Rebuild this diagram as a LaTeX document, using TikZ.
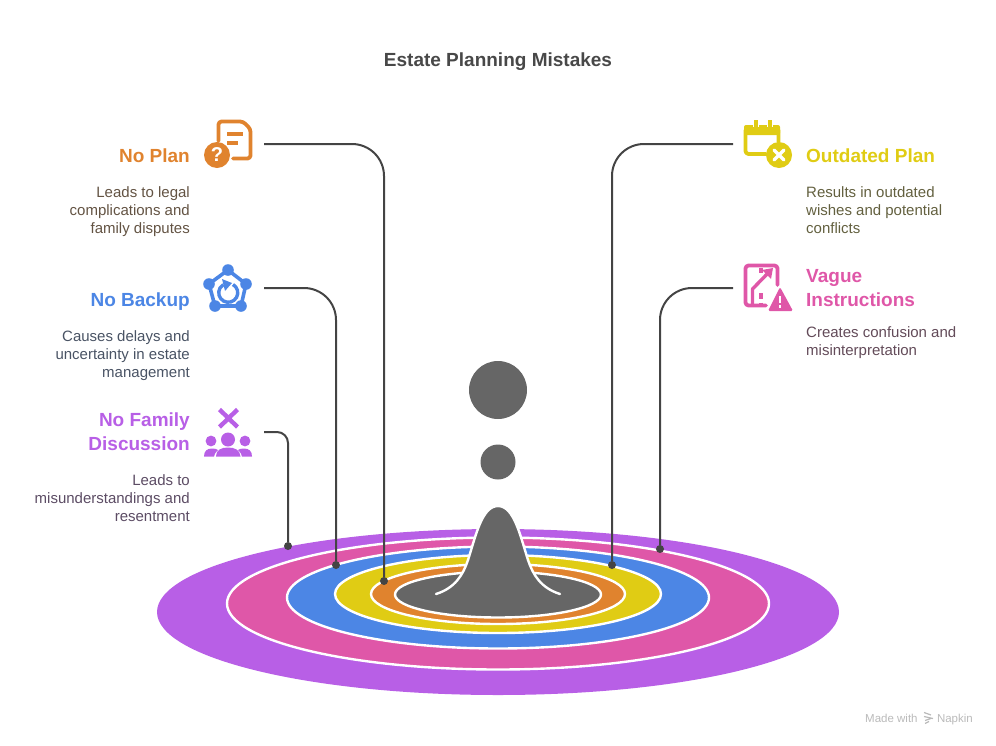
\documentclass[tikz,border=0pt]{standalone}
\usepackage{fontspec}
\setmainfont{Liberation Sans}
\definecolor{planC}{HTML}{E0832E}
\definecolor{backupC}{HTML}{4C86E5}
\definecolor{familyC}{HTML}{B85FE6}
\definecolor{outdatedC}{HTML}{E0CC14}
\definecolor{vagueC}{HTML}{DF57A8}
\definecolor{peakC}{HTML}{666666}
\definecolor{leaderC}{HTML}{444444}
\definecolor{titleC}{HTML}{484848}
\tikzset{
  ring/.style={draw=white, line width=2.4},
  leader/.style={draw=leaderC, line width=2},
  dotmark/.style={circle, fill=leaderC, minimum size=8, inner sep=0},
  headL/.style={anchor=east, align=right, inner sep=0, font=\fontsize{19}{24}\selectfont\bfseries},
  headR/.style={anchor=west, align=left, inner sep=0, font=\fontsize{19}{24}\selectfont\bfseries},
  bodyL/.style={anchor=east, align=right, inner sep=0, font=\fontsize{15}{18}\selectfont},
  bodyR/.style={anchor=west, align=left, inner sep=0, font=\fontsize{15}{18}\selectfont},
  glyph/.style={line width=3.8, line cap=round, line join=round, rounded corners=3},
  credit/.style={inner sep=0, text=black!27, font=\fontsize{11.5}{13}\selectfont}
}
\begin{document}
\begin{tikzpicture}[x=1pt, y=-1pt]
  \useasboundingbox (0,0) rectangle (996,745);

  \node (title) at (498,61.5) [font=\fontsize{19}{22}\selectfont\bfseries, text=titleC] {Estate Planning Mistakes};

  \fill [familyC] (498,612) ellipse [x radius=341, y radius=83];
  \draw [ring, fill=vagueC] (498,603.5) ellipse [x radius=271, y radius=66];
  \draw [ring, fill=backupC] (498,597.5) ellipse [x radius=211, y radius=51];
  \draw [ring, fill=outdatedC] (498,594) ellipse [x radius=163, y radius=39];
  \draw [ring, fill=planC] (498,594) ellipse [x radius=127, y radius=30];
  \draw [ring, fill=peakC] (498,594.5) ellipse [x radius=103, y radius=23];
  \draw [ring, fill=peakC, line cap=round] (436,594) .. controls (455,588) and (463,575) .. (468,560)
    .. controls (476,535) and (482,506) .. (498,506)
    .. controls (514,506) and (520,535) .. (528,560)
    .. controls (533,575) and (541,588) .. (560,594);
  \fill [peakC] (498,462) circle [radius=17.5];
  \fill [peakC] (498,390) circle [radius=29];

  \coordinate (planStart) at (264,144);
  \coordinate (backupStart) at (264,288);
  \coordinate (familyStart) at (264,432);
  \coordinate (outdatedStart) at (733,144);
  \coordinate (vagueStart) at (733,288);
  \node (planDot) [dotmark] at (384,581) {};
  \node (backupDot) [dotmark] at (336,565) {};
  \node (familyDot) [dotmark] at (288,546) {};
  \node (outdatedDot) [dotmark] at (612,565) {};
  \node (vagueDot) [dotmark] at (660,549) {};
  \draw [leader, rounded corners=32] (planStart) -| (planDot);
  \draw [leader, rounded corners=32] (backupStart) -| (backupDot);
  \draw [leader, rounded corners=11] (familyStart) -| (familyDot);
  \draw [leader, rounded corners=32] (outdatedStart) -| (outdatedDot);
  \draw [leader, rounded corners=32] (vagueStart) -| (vagueDot);

  \node (planHead) [headL, text=planC] at (190,156) {No Plan};
  \node (planBody) [bodyL, text=planC!18!titleC] at (190,212) {Leads to legal\\complications and\\family disputes};
  \node (backupHead) [headL, text=backupC] at (190,302) {No Backup};
  \node (backupBody) [bodyL, text=backupC!18!titleC] at (190,356) {Causes delays and\\uncertainty in estate\\management};
  \node (familyHead) [headL, text=familyC] at (190,432) {No Family\\Discussion};
  \node (familyBody) [bodyL, text=familyC!18!titleC] at (190,498) {Leads to\\misunderstandings and\\resentment};
  \node (outdatedHead) [headR, text=outdatedC] at (806,156) {Outdated Plan};
  \node (outdatedBody) [bodyR, text=outdatedC!18!titleC] at (806,210) {Results in outdated\\wishes and potential\\conflicts};
  \node (vagueHead) [headR, text=vagueC] at (806,288) {Vague\\Instructions};
  \node (vagueBody) [bodyR, text=vagueC!18!titleC] at (806,343) {Creates confusion and\\misinterpretation};

  \draw [glyph, planC] (218.5,141) -- (218.5,121.5) -- (243,121.5) -- (250.5,129) -- (250.5,158.5) -- (233,158.5);
  \draw [planC, line width=3.4] (227,134) -- (243,134) (227,143) -- (238,143);
  \fill [planC] (217,155) circle [radius=13];
  \node (planMark) at (217,155) [text=white, inner sep=0, font=\fontsize{20}{20}\selectfont\bfseries] {?};

  \draw [line width=3.6, line join=round, backupC] (228,270) -- (246,284) -- (241,306) -- (215,306) -- (209,284) -- cycle;
  \foreach \dotx/\doty in {228/270, 246/284, 241/306, 215/306, 209/284}
    \fill [backupC] (\dotx,\doty) circle [radius=5.8];
  \draw [backupC, line width=3.4] (233,284.5) arc [start angle=-60, end angle=240, radius=9.5];
  \fill [backupC] (222,279) -- (232,283) -- (225,291) -- cycle;

  \draw [familyC, line width=4.4] (219.5,409.5) -- (237.5,427) (237.5,409.5) -- (219.5,427);
  \fill [familyC] (228,439.5) circle [radius=7] (211,441) circle [radius=5.4] (245,441) circle [radius=5.4];
  \fill [familyC] (216,456.5) .. controls (216,450) and (221,447.5) .. (228,447.5) .. controls (235,447.5) and (240,450) .. (240.5,456.5) -- cycle;
  \fill [familyC] (204,456.5) .. controls (204,451) and (207,448.5) .. (212,448.5) .. controls (215,448.5) and (217,449) .. (218,450) .. controls (216,452) and (214,454) .. (214,456.5) -- cycle;
  \fill [familyC] (252,456.5) .. controls (252,451) and (249,448.5) .. (244,448.5) .. controls (241,448.5) and (239,449) .. (238,450) .. controls (240,452) and (242,454) .. (242,456.5) -- cycle;

  \draw [glyph, outdatedC] (745.5,130) -- (745.5,154) -- (766,154) (778.5,130) -- (778.5,142);
  \fill [outdatedC, rounded corners=2] (744,125) rectangle (780,135);
  \draw [white, line width=6] (756,118) -- (756,127) (770,118) -- (770,127);
  \draw [outdatedC, line width=3.4] (756,120) -- (756,130) (770,120) -- (770,130);
  \fill [outdatedC] (779,155) circle [radius=13];
  \draw [white, line width=3.4, line cap=round] (774,150) -- (784,160) (784,150) -- (774,160);

  \draw [glyph, vagueC] (777.5,285) -- (777.5,265.5) -- (745.5,265.5) -- (745.5,305.5) -- (766,305.5);
  \draw [vagueC, line width=3.4, line cap=round, line join=round] (752.5,305) -- (752.5,289) -- (770,271);
  \fill [vagueC] (773,268) -- (762,270) -- (771,279) -- cycle;
  \draw [vagueC, line width=3.4] (761,268) -- (761,272.5) (761,293) -- (761,299) (761,302.5) -- (761,306);
  \fill [vagueC, rounded corners=1.5] (780,287) -- (793,311) -- (768,311) -- cycle;
  \draw [white, line width=2.6] (780,296) -- (780,303) (780,305) -- (780,307.5);

  \node (madeText) at (865,722) [credit, anchor=base west] {Made with};
  \node (napkinText) at (973,722) [credit, anchor=base east] {Napkin};
  \draw [black!27, line width=1.2] (924,712.5) -- (931,715) (924,716.5) -- (933,718.5) (925,720.5) -- (931,718.5) (925,723.5) -- (929,721.5);
\end{tikzpicture}
\end{document}
